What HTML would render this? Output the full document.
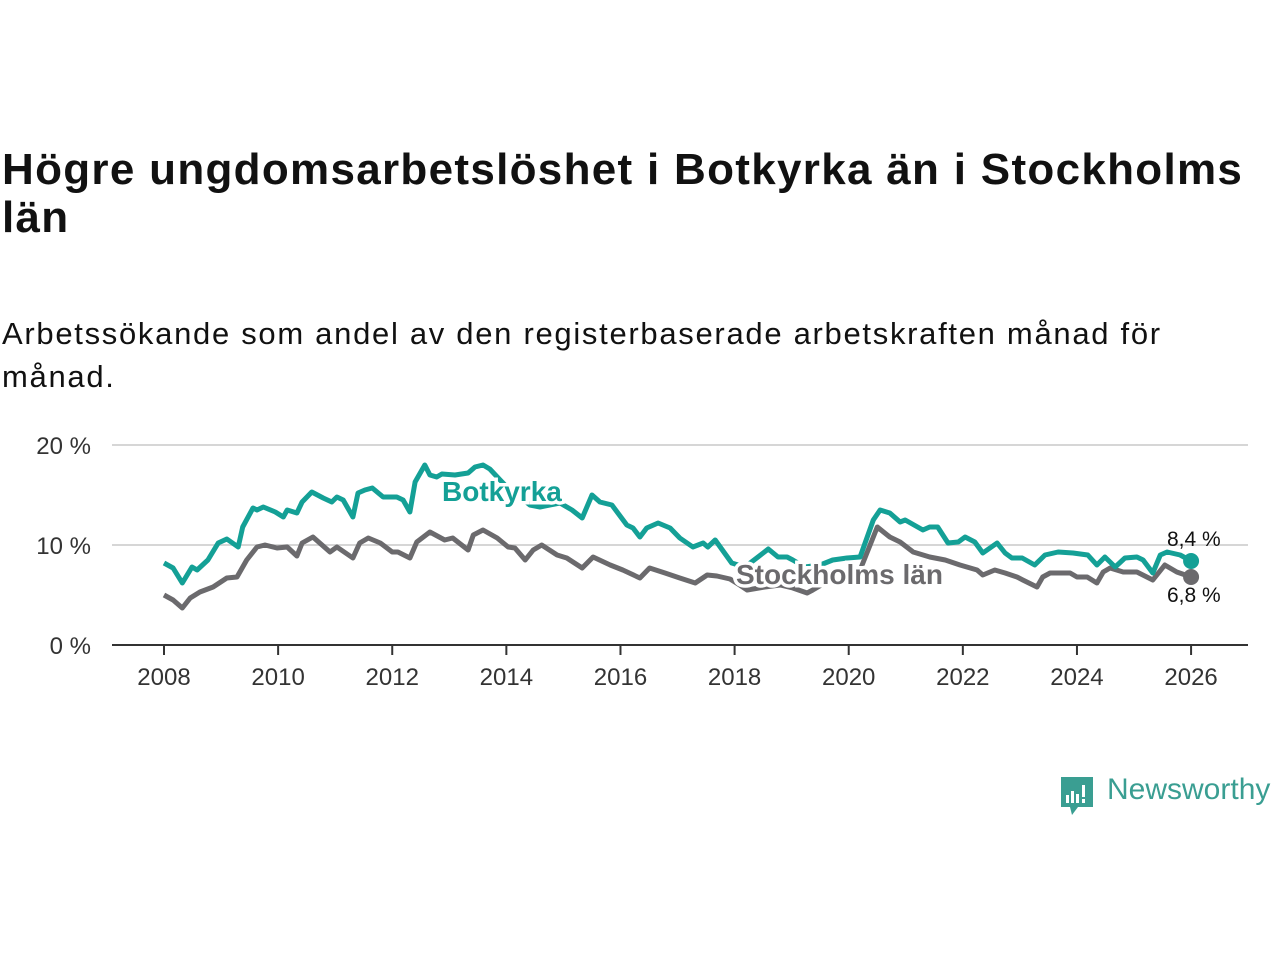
<!DOCTYPE html>
<html><head><meta charset="utf-8">
<style>
body{margin:0;background:#fff;width:1280px;height:960px;overflow:hidden;font-family:"Liberation Sans",sans-serif;color:#111;}
#title{position:absolute;left:2px;top:146px;font-size:44px;font-weight:bold;line-height:48px;width:1275px;letter-spacing:1.3px;white-space:nowrap}
#subtitle{position:absolute;left:2px;top:312px;font-size:31px;line-height:43px;width:1275px;letter-spacing:1.7px;white-space:nowrap}
svg{position:absolute;left:0;top:0}
</style></head><body>
<div id="title">Högre ungdomsarbetslöshet i Botkyrka än i Stockholms<br>län</div>
<div id="subtitle">Arbetssökande som andel av den registerbaserade arbetskraften månad för<br>månad.</div>
<svg id="chart" width="1280" height="960"></svg>
<div style="position:absolute;left:1060px;top:775px;height:42px;">
<svg width="36" height="42" style="position:absolute;left:0;top:0"><path d="M1 2h32v30H18l-6 8-2-8H1z" fill="#3a9e92"/><rect x="6" y="20" width="3" height="8" fill="#fff"/><rect x="11" y="16" width="3" height="12" fill="#fff"/><rect x="16" y="19" width="3" height="9" fill="#fff"/><rect x="22" y="10" width="3" height="12" fill="#fff"/><rect x="22" y="24" width="3" height="4" fill="#fff"/></svg>
<span style="position:absolute;left:47px;top:-2px;font-size:30px;color:#3a9e92;white-space:nowrap">Newsworthy</span></div>
<script>
const yearTicks=[2008,2010,2012,2014,2016,2018,2020,2022,2024,2026];
const yTicks=[0,10,20];
const botkyrkaYears=[0,.16,.32,.49,.58,.77,.95,1.10,1.30,1.38,1.56,1.63,1.74,1.95,2.09,2.16,2.33,2.42,2.59,2.79,2.94,3.03,3.14,3.31,3.40,3.52,3.65,3.84,4.08,4.19,4.31,4.40,4.57,4.66,4.78,4.87,5.10,5.33,5.45,5.59,5.71,5.89,6.06,6.24,6.41,6.59,6.76,6.94,7.15,7.33,7.50,7.64,7.85,8.11,8.22,8.34,8.46,8.66,8.87,9.04,9.27,9.45,9.53,9.66,9.95,10.18,10.41,10.59,10.76,10.92,11.02,11.23,11.50,11.72,11.97,12.20,12.43,12.55,12.72,12.90,12.99,13.30,13.42,13.56,13.74,13.92,14.04,14.21,14.35,14.60,14.74,14.86,15.04,15.26,15.44,15.67,15.93,16.19,16.35,16.49,16.67,16.84,17.05,17.16,17.33,17.46,17.58,17.81,18.0];
const botkyrkaValues=[8.2,7.7,6.2,7.8,7.5,8.5,10.2,10.6,9.8,11.8,13.7,13.5,13.8,13.3,12.8,13.5,13.2,14.3,15.3,14.7,14.3,14.8,14.5,12.8,15.2,15.5,15.7,14.8,14.8,14.5,13.3,16.3,18.0,17.0,16.8,17.1,17.0,17.2,17.8,18.0,17.6,16.5,15.5,14.8,14.0,13.8,14.0,14.2,13.5,12.7,15.0,14.3,14.0,12.0,11.7,10.8,11.7,12.2,11.7,10.7,9.8,10.2,9.8,10.5,8.2,7.8,8.8,9.6,8.8,8.8,8.5,7.8,8.0,8.5,8.7,8.8,12.5,13.5,13.2,12.3,12.5,11.5,11.8,11.8,10.2,10.3,10.8,10.3,9.2,10.2,9.2,8.7,8.7,8.0,9.0,9.3,9.2,9.0,8.0,8.8,7.8,8.7,8.8,8.5,7.2,9.0,9.3,9.0,8.4];
const stockholmYears=[0,.16,.32,.46,.63,.86,1.10,1.28,1.45,1.63,1.77,1.98,2.16,2.33,2.42,2.61,2.91,3.03,3.31,3.43,3.58,3.79,4.00,4.10,4.31,4.43,4.66,4.92,5.06,5.33,5.42,5.59,5.84,6.03,6.15,6.33,6.47,6.62,6.89,7.06,7.33,7.52,7.82,8.04,8.34,8.51,8.78,9.04,9.31,9.52,9.69,9.92,10.09,10.22,10.53,10.80,11.02,11.27,11.37,11.67,11.93,12.20,12.50,12.72,12.90,13.13,13.42,13.69,13.95,14.25,14.35,14.56,14.74,14.95,15.05,15.30,15.40,15.53,15.88,16.00,16.18,16.35,16.46,16.58,16.81,17.05,17.33,17.54,17.75,18.0];
const stockholmValues=[5.0,4.5,3.7,4.7,5.3,5.8,6.7,6.8,8.5,9.8,10.0,9.7,9.8,8.9,10.2,10.8,9.3,9.8,8.7,10.2,10.7,10.2,9.3,9.3,8.7,10.3,11.3,10.5,10.7,9.5,11.0,11.5,10.7,9.8,9.7,8.5,9.5,10.0,9.0,8.7,7.7,8.8,8.0,7.5,6.7,7.7,7.2,6.7,6.2,7.0,6.9,6.6,6.0,5.5,5.8,6.0,5.7,5.2,5.5,6.5,7.0,7.5,11.8,10.8,10.3,9.3,8.8,8.5,8.0,7.5,7.0,7.5,7.2,6.8,6.5,5.8,6.8,7.2,7.2,6.8,6.8,6.2,7.3,7.7,7.3,7.3,6.5,8.0,7.3,6.8];
const seriesLabels=["Botkyrka","Stockholms län"];
const endLabels=["8,4 %","6,8 %"];

const NS="http://www.w3.org/2000/svg";
const svg=document.getElementById('chart');
const X=y=>164+(y-2008)*57.06;
const Y=v=>645-v*10;
function el(t,a,p){const e=document.createElementNS(NS,t);for(const k in a)e.setAttribute(k,a[k]);(p||svg).appendChild(e);return e;}
yTicks.forEach(t=>{
  if(t>0){const g=el('line',{x1:112,x2:1248,y1:Y(t),y2:Y(t),stroke:'#d6d6d6','stroke-width':2});
  
  }
  const tx=el('text',{x:91,y:Y(t)+9,'text-anchor':'end','font-size':24,fill:'#333','font-family':'Liberation Sans'});
  tx.textContent=t+' %';
  
  
});
const ax=el('line',{x1:112,x2:1248,y1:645,y2:645,stroke:'#333','stroke-width':2});


yearTicks.forEach(t=>{
  const tk=el('line',{x1:X(t),x2:X(t),y1:645,y2:655,stroke:'#333','stroke-width':2});
  
  
  const tx=el('text',{x:X(t),y:685,'text-anchor':'middle','font-size':24,fill:'#333','font-family':'Liberation Sans'});
  tx.textContent=t;
  
  
});
function line(ys,vs,color,name){
  const d=ys.map((y,i)=>(i?'L':'M')+X(2008+y).toFixed(1)+' '+Y(vs[i]).toFixed(1)).join('');
  const p=el('path',{d:d,fill:'none',stroke:color,'stroke-width':5,'stroke-linejoin':'round'});
  
  
  const c=el('circle',{cx:X(2008+ys[ys.length-1]),cy:Y(vs[vs.length-1]),r:8,fill:color});
  
  
}
line(stockholmYears,stockholmValues,'#6b6a6d','stockholm-line');
line(botkyrkaYears,botkyrkaValues,'#14a096','botkyrka-line');
function lab(x,y,t,c,name,size,bold){
  const tx=el('text',{x:x,y:y,fill:c,'font-size':size,'font-weight':bold?'bold':'normal',stroke:'#fff','stroke-width':bold?7:0,'paint-order':'stroke','font-family':'Liberation Sans'});
  tx.textContent=t;
  
  
}
lab(442,501,seriesLabels[0],'#14a096','botkyrka-label',28,true);
lab(736,584,seriesLabels[1],'#6b6a6d','stockholm-label',28,true);
lab(1167,546,endLabels[0],'#111','botkyrka-end-value',21,false);
lab(1167,602,endLabels[1],'#111','stockholm-end-value',21,false);
</script>
</body></html>
